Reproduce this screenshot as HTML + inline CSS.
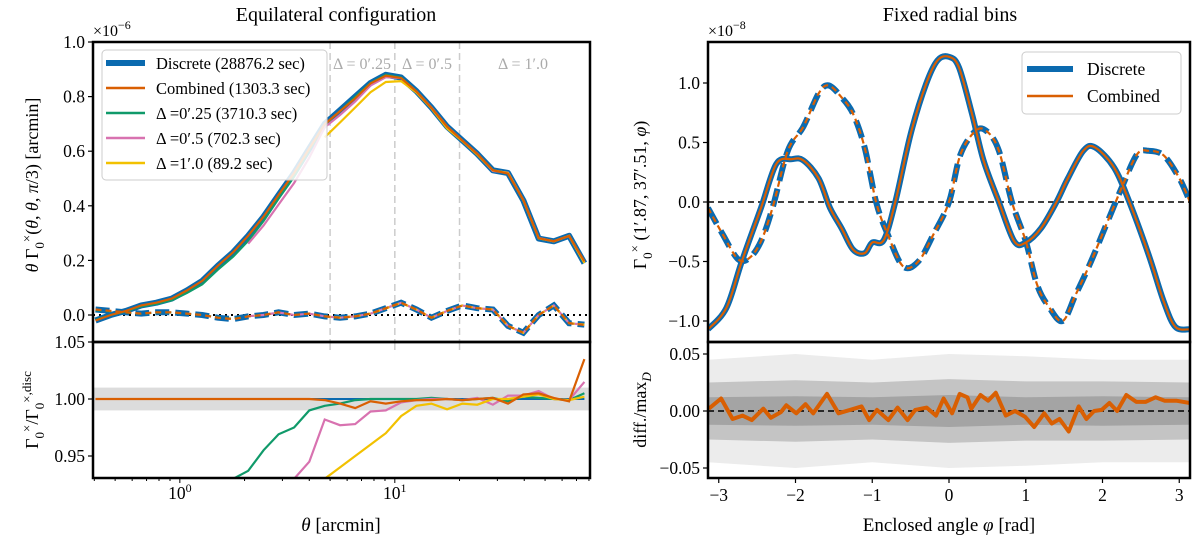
<!DOCTYPE html>
<html><head><meta charset="utf-8"><style>
html,body{margin:0;padding:0;background:#fff;}
svg{display:block;font-family:"Liberation Serif","DejaVu Serif",serif;}
</style></head><body>
<svg id="chart" width="1200" height="544" viewBox="0 0 1200 544" xmlns="http://www.w3.org/2000/svg">
<defs>
<clipPath id="clipLT"><rect x="93" y="42" width="497" height="300"/></clipPath>
<clipPath id="clipLB"><rect x="93" y="342" width="497" height="136"/></clipPath>
<clipPath id="clipRT"><rect x="708" y="42" width="482" height="300"/></clipPath>
<clipPath id="clipRB"><rect x="708" y="342" width="482" height="136"/></clipPath>
</defs>
<text x="336" y="21" font-size="20" text-anchor="middle">Equilateral configuration</text>
<text x="950" y="21" font-size="20" text-anchor="middle">Fixed radial bins</text>
<g id="gLT" clip-path="url(#clipLT)"></g>
<g id="gLB" clip-path="url(#clipLB)"></g>
<g id="gRT" clip-path="url(#clipRT)"></g>
<g id="gRB" clip-path="url(#clipRB)"></g>
<g id="gAx"></g>
<text x="93" y="36" font-size="16">×10<tspan dy="-7" font-size="12">−6</tspan></text>
<text x="708" y="36" font-size="16">×10<tspan dy="-7" font-size="12">−8</tspan></text>
<text transform="translate(38,185) rotate(-90)" font-size="18" text-anchor="middle"><tspan font-style="italic">θ</tspan> Γ<tspan dy="6" font-size="13">0</tspan><tspan dy="-13" font-size="13">×</tspan><tspan dy="7">(</tspan><tspan font-style="italic">θ</tspan>, <tspan font-style="italic">θ</tspan>, <tspan font-style="italic">π</tspan>/3) [arcmin]</text>
<text transform="translate(38,410) rotate(-90)" font-size="18" text-anchor="middle">Γ<tspan dy="6" font-size="13">0</tspan><tspan dy="-13" font-size="13">×</tspan><tspan dy="7">/Γ</tspan><tspan dy="6" font-size="13">0</tspan><tspan dy="-13" font-size="13">×,disc</tspan></text>
<text transform="translate(646,195) rotate(-90)" font-size="18" text-anchor="middle">Γ<tspan dy="6" font-size="13">0</tspan><tspan dy="-13" font-size="13">×</tspan><tspan dy="7"> (1′.87, 37′.51, </tspan><tspan font-style="italic">φ</tspan>)</text>
<text transform="translate(646,410) rotate(-90)" font-size="18" text-anchor="middle">diff./max<tspan dy="5" font-size="13" font-style="italic">D</tspan></text>
<text x="341" y="531" font-size="19" text-anchor="middle"><tspan font-style="italic">θ</tspan> [arcmin]</text>
<text x="949" y="531" font-size="19" text-anchor="middle">Enclosed angle <tspan font-style="italic">φ</tspan> [rad]</text>
<g>
<rect x="102" y="50" width="225" height="130" rx="4" fill="#fff" fill-opacity="0.85" stroke="#ccc"/>
<line x1="106" y1="63" x2="145" y2="63" stroke="#0b6aaf" stroke-width="6"/>
<text x="156" y="69" font-size="16.5">Discrete (28876.2 sec)</text>
<line x1="106" y1="88" x2="145" y2="88" stroke="#d95f02" stroke-width="2.5"/>
<text x="156" y="94" font-size="16.5">Combined (1303.3 sec)</text>
<line x1="106" y1="113" x2="145" y2="113" stroke="#109a6a" stroke-width="2.5"/>
<text x="156" y="119" font-size="16.5">Δ =0′.25 (3710.3 sec)</text>
<line x1="106" y1="138" x2="145" y2="138" stroke="#d872b0" stroke-width="2.5"/>
<text x="156" y="144" font-size="16.5">Δ =0′.5 (702.3 sec)</text>
<line x1="106" y1="163" x2="145" y2="163" stroke="#f2c100" stroke-width="2.5"/>
<text x="156" y="169" font-size="16.5">Δ =1′.0 (89.2 sec)</text>
</g>
<text x="362" y="69" font-size="16" fill="#aaa" text-anchor="middle">Δ = 0′.25</text>
<text x="427" y="69" font-size="16" fill="#aaa" text-anchor="middle">Δ = 0′.5</text>
<text x="523" y="69" font-size="16" fill="#aaa" text-anchor="middle">Δ = 1′.0</text>
<g>
<rect x="1022" y="52" width="159" height="62" rx="4" fill="#fff" fill-opacity="0.85" stroke="#ccc"/>
<line x1="1027" y1="69" x2="1073" y2="69" stroke="#0b6aaf" stroke-width="6"/>
<text x="1087" y="75" font-size="17.5">Discrete</text>
<line x1="1027" y1="96" x2="1073" y2="96" stroke="#d95f02" stroke-width="2.5"/>
<text x="1087" y="102" font-size="17.5">Combined</text>
</g>
</svg>
<script>
// ---- Left panel data ----
const theta = [0.405,0.477,0.561,0.661,0.778,0.916,1.08,1.27,1.50,1.77,2.08,2.45,2.88,3.40,4.00,4.72,5.56,6.54,7.71,9.08,10.7,12.6,14.8,17.5,20.6,24.2,28.6,33.6,39.6,46.7,54.9,64.7,76.2];
const discreteMain = [-0.02,0.0,0.015,0.035,0.045,0.06,0.09,0.125,0.18,0.23,0.29,0.36,0.44,0.52,0.61,0.70,0.75,0.80,0.85,0.88,0.87,0.82,0.76,0.69,0.64,0.59,0.53,0.52,0.42,0.28,0.27,0.29,0.19];
const discreteSecond = [0.02,0.015,0.01,0.005,0.01,0.01,0.005,0.0,-0.01,-0.015,-0.005,0.0,0.01,0.0,0.005,-0.005,-0.01,-0.005,0.005,0.025,0.045,0.02,-0.01,0.015,0.035,0.025,0.02,-0.04,-0.065,0.0,0.035,-0.03,-0.035];
const ratioCombined = [1,1,1,1,1,1,1,1,1,1,1,1,1,1,1,0.999,0.996,0.992,0.998,0.996,0.998,0.999,0.999,1.0,0.999,1.0,1.001,0.996,1.004,1.005,1.001,0.998,1.035];
const ratioD025 = [0.9,0.9,0.9,0.9,0.9,0.9,0.9,0.9,0.92,0.93,0.937,0.955,0.969,0.975,0.99,0.994,0.996,0.999,1.0,1.0,1.0,1.0,1.001,1.0,0.999,1.0,1.001,0.998,1.002,1.001,1.0,0.999,1.005];
const ratioD05 = [null,null,null,null,null,null,null,null,null,null,0.9,0.91,0.92,0.93,0.945,0.982,0.977,0.978,0.989,0.99,0.997,0.999,1.0,1.0,0.999,1.001,0.995,1.003,1.003,1.007,1.0,0.999,1.015];
const ratioD10 = [null,null,null,null,null,null,null,null,null,null,null,null,null,null,null,0.93,0.94,0.95,0.96,0.97,0.985,0.994,0.996,0.991,0.996,0.995,1.0,1.0,1.002,1.004,1.0,0.999,1.002];
const vlineTheta = [5,10,20];
const leftTopTicks = [0.0,0.2,0.4,0.6,0.8,1.0];
const leftBotTicks = [0.95,1.00,1.05];
// ---- Right panel data ----
const phiSolid = [-3.14,-2.9,-2.7,-2.45,-2.25,-2.05,-1.9,-1.7,-1.55,-1.4,-1.25,-1.1,-1.0,-0.85,-0.7,-0.5,-0.3,-0.15,0,0.13,0.3,0.45,0.65,0.85,1.0,1.2,1.4,1.55,1.75,1.9,2.15,2.35,2.6,2.8,2.95,3.14];
const solidVals = [-1.07,-0.89,-0.50,-0.05,0.32,0.36,0.35,0.2,-0.05,-0.22,-0.4,-0.43,-0.34,-0.32,0.0,0.57,0.99,1.19,1.22,1.13,0.74,0.35,0.0,-0.33,-0.34,-0.22,0.0,0.2,0.43,0.46,0.29,0.0,-0.44,-0.84,-1.05,-1.07];
const phiDashed = [-3.14,-2.95,-2.75,-2.6,-2.45,-2.3,-2.1,-1.9,-1.7,-1.57,-1.4,-1.25,-1.1,-0.95,-0.8,-0.6,-0.4,-0.2,0.0,0.15,0.35,0.5,0.65,0.82,1.0,1.15,1.3,1.48,1.65,1.85,2.05,2.25,2.45,2.6,2.8,3.0,3.14];
const dashedVals = [-0.05,-0.27,-0.48,-0.47,-0.33,-0.05,0.43,0.63,0.91,0.98,0.88,0.74,0.46,0.0,-0.27,-0.54,-0.5,-0.27,0.0,0.4,0.6,0.59,0.43,0.0,-0.33,-0.7,-0.88,-1.0,-0.78,-0.5,-0.19,0.12,0.4,0.43,0.39,0.2,0.0];
const phiResid = [-3.13,-2.97,-2.82,-2.69,-2.57,-2.42,-2.32,-2.19,-2.12,-1.99,-1.87,-1.77,-1.59,-1.44,-1.29,-1.14,-1.04,-0.94,-0.79,-0.67,-0.54,-0.44,-0.29,-0.17,-0.07,0.04,0.14,0.24,0.29,0.41,0.51,0.61,0.74,0.86,0.99,1.11,1.24,1.34,1.44,1.56,1.69,1.79,1.89,1.99,2.09,2.19,2.31,2.44,2.56,2.69,2.81,2.96,3.14];
const residVals = [0.002,0.011,-0.007,-0.004,-0.008,0.002,-0.006,-0.001,0.005,-0.002,0.006,-0.002,0.015,-0.002,0.001,0.004,-0.008,0.001,-0.008,0.003,-0.008,0.001,0.003,-0.004,0.011,-0.002,0.015,0.012,0.002,0.014,0.009,0.016,-0.004,0.0,-0.005,-0.014,-0.002,-0.011,-0.007,-0.018,0.004,-0.007,0.0,0.001,0.007,0.0,0.014,0.008,0.008,0.012,0.009,0.009,0.007];
const phiBand = [-3.14,-2,-1,0,1,2,3.14];
const bandInner = [0.012,0.013,0.012,0.014,0.012,0.013,0.012];
const bandMid = [0.025,0.027,0.025,0.028,0.026,0.026,0.025];
const bandOuter = [0.045,0.05,0.045,0.05,0.048,0.045,0.045];
const rightTopTicks = [-1.0,-0.5,0.0,0.5,1.0];
const rightBotTicks = [-0.05,0.0,0.05];
const rightXTicks = [-3,-2,-1,0,1,2,3];

const NS='http://www.w3.org/2000/svg';
function mk(parent,tag,attrs){const e=document.createElementNS(NS,tag);for(const k in attrs)e.setAttribute(k,attrs[k]);parent.appendChild(e);return e;}
const LX0=93,LX1=590,LMIN=-0.404,LMAX=1.908;
const lx=t=>LX0+(Math.log10(t)-LMIN)/(LMAX-LMIN)*(LX1-LX0);
const lyT=v=>315-v*273;
const lyB=v=>399-(v-1.0)*1140;
const rx=p=>949+p*76.75;
const ryT=v=>202-v*119;
const ryB=v=>411-v*1140;

function poly(xs,ys,fx,fy){let d='';let pen=false;for(let i=0;i<xs.length;i++){if(ys[i]===null||ys[i]===undefined){pen=false;continue;}d+=(pen?'L':'M')+fx(xs[i]).toFixed(1)+' '+fy(ys[i]).toFixed(1);pen=true;}return d;}
function smooth(xs,ys,fx,fy){const P=xs.map((x,i)=>[fx(x),fy(ys[i])]);let d='M'+P[0][0].toFixed(1)+' '+P[0][1].toFixed(1);for(let i=0;i<P.length-1;i++){const p0=P[Math.max(0,i-1)],p1=P[i],p2=P[i+1],p3=P[Math.min(P.length-1,i+2)];const c1=[p1[0]+(p2[0]-p0[0])/6,p1[1]+(p2[1]-p0[1])/6],c2=[p2[0]-(p3[0]-p1[0])/6,p2[1]-(p3[1]-p1[1])/6];d+='C'+c1[0].toFixed(1)+' '+c1[1].toFixed(1)+' '+c2[0].toFixed(1)+' '+c2[1].toFixed(1)+' '+p2[0].toFixed(1)+' '+p2[1].toFixed(1);}return d;}

const gLT=document.getElementById('gLT'),gLB=document.getElementById('gLB'),gRT=document.getElementById('gRT'),gRB=document.getElementById('gRB'),gAx=document.getElementById('gAx');
const BLUE='#0b6aaf',ORANGE='#d95f02',GREEN='#109a6a',PINK='#d872b0',YELLOW='#f2c100';

vlineTheta.forEach(t=>{
  const l=mk(gLT,'line',{x1:lx(t),x2:lx(t),y1:42,y2:342,stroke:'#ccc','stroke-width':1.5,'stroke-dasharray':'7,4'});
  
  
});
let zl=mk(gLT,'line',{x1:LX0,x2:LX1,y1:lyT(0),y2:lyT(0),stroke:'#000','stroke-width':2,'stroke-dasharray':'2,4'});


function prod(r,base){return base.map((v,i)=>r[i]===null?null:v*r[i]);}
let p;
p=mk(gLT,'path',{d:poly(theta,discreteMain,lx,lyT),fill:'none',stroke:BLUE,'stroke-width':6,'stroke-linejoin':'round'});


p=mk(gLT,'path',{d:poly(theta,discreteSecond,lx,lyT),fill:'none',stroke:BLUE,'stroke-width':6,'stroke-dasharray':'14,6'});


[[ratioD025,GREEN,'d025'],[ratioD05,PINK,'d05'],[ratioD10,YELLOW,'d10'],[ratioCombined,ORANGE,'combined']].forEach(([r,c,n])=>{
  let a=mk(gLT,'path',{d:poly(theta,prod(r,discreteMain),lx,lyT),fill:'none',stroke:c,'stroke-width':2.2});
  
  
  let b=mk(gLT,'path',{d:poly(theta,prod(r,discreteSecond),lx,lyT),fill:'none',stroke:c,'stroke-width':2.2,'stroke-dasharray':'6,4'});
  
  
});
let band=mk(gLB,'rect',{x:LX0,y:lyB(1.01),width:LX1-LX0,height:lyB(0.99)-lyB(1.01),fill:'#dcdcdc'});


vlineTheta.forEach(t=>{
  const l=mk(gLB,'line',{x1:lx(t),x2:lx(t),y1:342,y2:350,stroke:'#ccc','stroke-width':1.5});
  
  
});
p=mk(gLB,'line',{x1:lx(theta[0]),x2:lx(theta[theta.length-1]),y1:lyB(1),y2:lyB(1),stroke:BLUE,'stroke-width':2});


[[ratioD025,GREEN,'d025'],[ratioD05,PINK,'d05'],[ratioD10,YELLOW,'d10'],[ratioCombined,ORANGE,'combined']].forEach(([r,c,n])=>{
  let a=mk(gLB,'path',{d:poly(theta,r,lx,lyB),fill:'none',stroke:c,'stroke-width':2.2});
  
  
});
p=mk(gRT,'line',{x1:708,x2:1190,y1:ryT(0),y2:ryT(0),stroke:'#000','stroke-width':1.5,'stroke-dasharray':'6,4'});


p=mk(gRT,'path',{d:smooth(phiSolid,solidVals,rx,ryT),fill:'none',stroke:BLUE,'stroke-width':6});


p=mk(gRT,'path',{d:smooth(phiDashed,dashedVals,rx,ryT),fill:'none',stroke:BLUE,'stroke-width':6,'stroke-dasharray':'18,8'});


p=mk(gRT,'path',{d:smooth(phiSolid,solidVals,rx,ryT),fill:'none',stroke:ORANGE,'stroke-width':2.2});


p=mk(gRT,'path',{d:smooth(phiDashed,dashedVals,rx,ryT),fill:'none',stroke:ORANGE,'stroke-width':2.2,'stroke-dasharray':'6,4'});


function envelope(vals){const up=phiBand.map((ph,i)=>rx(ph).toFixed(1)+' '+ryB(vals[i]).toFixed(1));const dn=phiBand.slice().reverse().map((ph,i)=>rx(ph).toFixed(1)+' '+ryB(-vals[vals.length-1-i]).toFixed(1));return 'M'+up.join('L')+'L'+dn.join('L')+'Z';}
p=mk(gRB,'path',{d:envelope(bandOuter),fill:'#ececec'});


p=mk(gRB,'path',{d:envelope(bandMid),fill:'#c4c4c4'});


p=mk(gRB,'path',{d:envelope(bandInner),fill:'#a4a4a4'});


p=mk(gRB,'line',{x1:708,x2:1190,y1:ryB(0),y2:ryB(0),stroke:'#000','stroke-width':1.5,'stroke-dasharray':'6,4'});


p=mk(gRB,'path',{d:poly(phiResid,residVals,rx,ryB),fill:'none',stroke:ORANGE,'stroke-width':4,'stroke-linejoin':'round'});



[[93,42,497,300],[93,342,497,136],[708,42,482,300],[708,342,482,136]].forEach(([x,y,w,h])=>{
  const r=mk(gAx,'rect',{x:x,y:y,width:w,height:h,fill:'none',stroke:'#000','stroke-width':2.5});
  
  
});
function ytick(x,y,label){mk(gAx,'line',{x1:x-5,x2:x,y1:y,y2:y,stroke:'#000','stroke-width':1.2});const t=mk(gAx,'text',{x:x-8,y:y+6,'font-size':17.5,'text-anchor':'end'});t.textContent=label;
  
  }
leftTopTicks.forEach(v=>ytick(93,lyT(v),v.toFixed(1)));
leftBotTicks.forEach(v=>ytick(93,lyB(v),v.toFixed(2)));
rightTopTicks.forEach(v=>ytick(708,ryT(v),v.toFixed(1).replace('-','−')));
rightBotTicks.forEach(v=>ytick(708,ryB(v),v.toFixed(2).replace('-','−')));
for(let dec=-1;dec<=1;dec++){for(let m=1;m<10;m++){const t=m*Math.pow(10,dec);const x=lx(t);if(x<LX0||x>LX1)continue;mk(gAx,'line',{x1:x,x2:x,y1:478,y2:478+(m===1?5:3),stroke:'#000','stroke-width':1});}}
[[1,'0'],[10,'1']].forEach(([t,e])=>{const tx=mk(gAx,'text',{x:lx(t),y:499,'font-size':17.5,'text-anchor':'middle'});tx.innerHTML='10<tspan dy="-7" font-size="12">'+e+'</tspan>';
  
  });
rightXTicks.forEach(v=>{mk(gAx,'line',{x1:rx(v),x2:rx(v),y1:478,y2:483,stroke:'#000','stroke-width':1.2});const t=mk(gAx,'text',{x:rx(v),y:501,'font-size':17.5,'text-anchor':'middle'});t.textContent=String(v).replace('-','−');
  
  });
</script>
</body></html>
